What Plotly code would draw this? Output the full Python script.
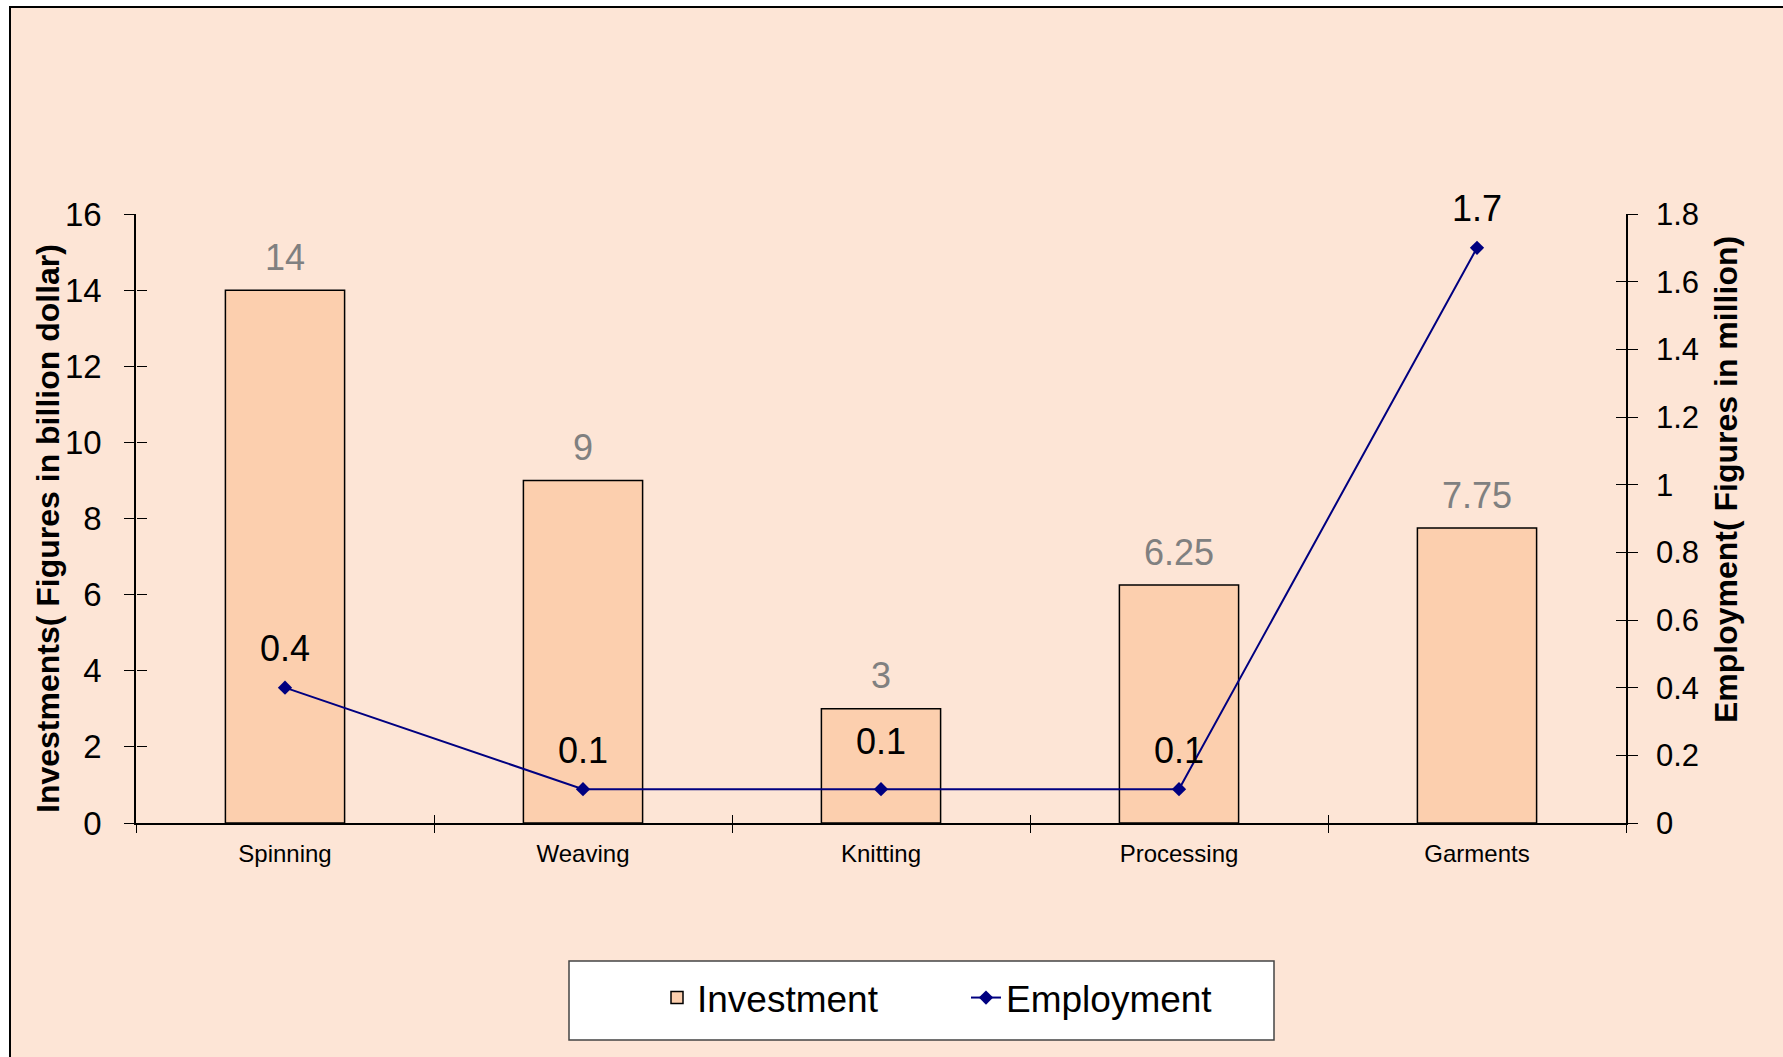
import plotly.graph_objects as go

categories = ["Spinning", "Weaving", "Knitting", "Processing", "Garments"]
investment = [14, 9, 3, 6.25, 7.75]
employment = [0.4, 0.1, 0.1, 0.1, 1.7]
investment_labels = ["14", "9", "3", "6.25", "7.75"]
employment_labels = ["0.4", "0.1", "0.1", "0.1", "1.7"]

FONT = "Arial, Liberation Sans, sans-serif"
BG = "#FDE5D6"
BAR = "#FCCFAE"
NAVY = "#000080"

W, H = 1783, 1057
L, R, T, B = 136, 157, 214, 234
PW, PH = W - L - R, H - T - B


def px(xp):
    return (xp - L) / PW


def py(yp):
    return (H - B - yp) / PH


fig = go.Figure()
fig.add_trace(go.Bar(
    x=categories, y=investment, name="Investment",
    marker=dict(color=BAR, line=dict(color="black", width=1.5)),
    width=0.4, yaxis="y", hoverinfo="skip"))
fig.add_trace(go.Scatter(
    x=categories, y=employment, name="Employment", yaxis="y2",
    mode="lines+markers",
    line=dict(color=NAVY, width=2),
    marker=dict(symbol="diamond", size=11, color=NAVY),
    hoverinfo="skip"))
# helper traces so the overlay tick axes are drawn
fig.add_trace(go.Scatter(x=[], y=[], xaxis="x2", yaxis="y3", showlegend=False))
fig.add_trace(go.Scatter(x=[], y=[], xaxis="x2", yaxis="y4", showlegend=False))

ann = []
for c, v, t in zip(categories, investment, investment_labels):
    ann.append(dict(x=c, y=v, xref="x", yref="y", text=t, showarrow=False,
                    yanchor="middle", yshift=33,
                    font=dict(family=FONT, size=36, color="#808080")))
for i, (c, v, t) in enumerate(zip(categories, employment, employment_labels)):
    ann.append(dict(x=c, y=v, xref="x", yref="y2", text=t, showarrow=False,
                    yanchor="middle", yshift=48 if i == 2 else 39,
                    font=dict(family=FONT, size=36, color="black")))
ann.append(dict(text="<b>Investments( Figures in billion dollar)</b>",
                xref="paper", yref="paper", x=px(48), y=py(529),
                textangle=-90, showarrow=False, xanchor="center", yanchor="middle",
                font=dict(family=FONT, size=32, color="black")))
ann.append(dict(text="<b>Employment( Figures in million)</b>",
                xref="paper", yref="paper", x=px(1726), y=py(479),
                textangle=-90, showarrow=False, xanchor="center", yanchor="middle",
                font=dict(family=FONT, size=32, color="black")))

shapes = [
    dict(type="rect", xref="paper", yref="paper", layer="below",
         x0=px(10), x1=px(W + 20), y0=py(H + 20), y1=py(7),
         fillcolor=BG, line=dict(color="black", width=2)),
    dict(type="rect", xref="paper", yref="paper", layer="below",
         x0=px(569), x1=px(1274), y0=py(1040), y1=py(961),
         fillcolor="white", line=dict(color="#444", width=1.5)),
]

fig.update_layout(
    width=W, height=H,
    margin=dict(l=L, r=R, t=T, b=B),
    paper_bgcolor="white", plot_bgcolor="rgba(0,0,0,0)",
    font=dict(family=FONT, color="black"),
    showlegend=True,
    legend=dict(orientation="h", x=px(657), xanchor="left",
                y=py(998), yanchor="middle",
                bgcolor="rgba(0,0,0,0)", borderwidth=0,
                font=dict(family=FONT, size=37, color="black"),
                entrywidth=264, entrywidthmode="pixels"),
    bargap=0.6,
    xaxis=dict(type="category", categoryorder="array", categoryarray=categories,
               range=[-0.5, 4.5], showline=True, linecolor="black", linewidth=1.5,
               ticks="outside", tickson="boundaries", ticklen=8, tickcolor="black",
               tickfont=dict(family=FONT, size=24), ticklabelstandoff=8,
               showgrid=False, zeroline=False),
    xaxis2=dict(overlaying="x", anchor="y", range=[-0.5, 4.5],
                tickvals=[-0.5, 0.5, 1.5, 2.5, 3.5, 4.5], ticks="inside",
                ticklen=8, tickcolor="black", showticklabels=False,
                showgrid=False, zeroline=False, showline=False),
    yaxis=dict(range=[0, 16], dtick=2, showline=True, linecolor="black", linewidth=1.5,
               ticks="outside", ticklen=10, tickcolor="black",
               tickfont=dict(family=FONT, size=33), ticklabelstandoff=16,
               showgrid=False, zeroline=False),
    yaxis2=dict(overlaying="y", side="right", range=[0, 1.8], dtick=0.2,
                showline=True, linecolor="black", linewidth=1.5,
                ticks="outside", ticklen=10, tickcolor="black",
                tickfont=dict(family=FONT, size=31), ticklabelstandoff=12,
                showgrid=False, zeroline=False),
    yaxis3=dict(overlaying="y", anchor="free", position=0, side="left",
                range=[0, 16], dtick=2, ticks="inside", ticklen=10, tickcolor="black",
                showticklabels=False, showgrid=False, zeroline=False, showline=False),
    yaxis4=dict(overlaying="y", anchor="free", position=1, side="right",
                range=[0, 1.8], dtick=0.2, ticks="inside", ticklen=10, tickcolor="black",
                showticklabels=False, showgrid=False, zeroline=False, showline=False),
    annotations=ann,
    shapes=shapes,
)

fig.write_html("out.html")
